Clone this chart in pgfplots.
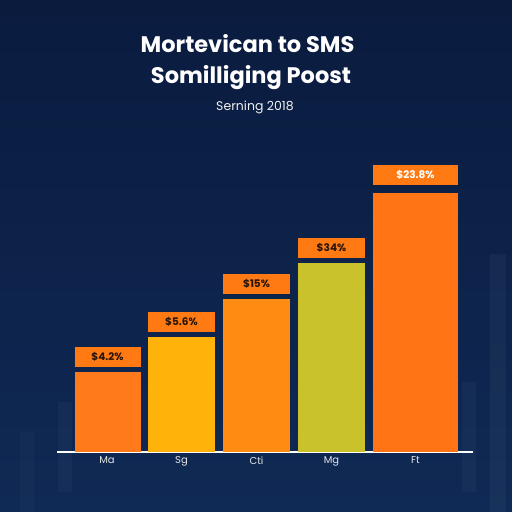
\documentclass[border=0pt]{standalone}
\usepackage{pgfplots}
\pgfplotsset{compat=1.18}
\usepackage{fontspec}
\setmainfont{Poppins}

\definecolor{bgtop}{HTML}{0A1B3E}
\definecolor{bgbot}{HTML}{0F2A55}
\definecolor{boxc}{HTML}{FF7A12}
\definecolor{barA}{HTML}{FF7A1A}
\definecolor{barB}{HTML}{FFB20A}
\definecolor{barC}{HTML}{FF8C12}
\definecolor{barD}{HTML}{C9C22B}
\definecolor{barE}{HTML}{FF7515}
\definecolor{labdark}{HTML}{2A1608}

\begin{document}
\begin{tikzpicture}[x=1pt,y=1pt]
\useasboundingbox (0,0) rectangle (512,512);
\shade[top color=bgtop, bottom color=bgbot] (0,0) rectangle (512,512);
% faint decorative columns in the background
\fill[white, opacity=0.03] (58,20) rectangle (72,110);
\fill[white, opacity=0.03] (462,20) rectangle (476,130);
\fill[white, opacity=0.04] (490,0) rectangle (506,258);
\fill[white, opacity=0.02] (20,0) rectangle (34,80);

\node[white, font=\bfseries\fontsize{22.5}{22.5}\selectfont] at (247.5,468) {Mortevican to SMS};
\node[white, font=\bfseries\fontsize{22.5}{22.5}\selectfont] at (251,434) {Somilliging Poost};
\node[white!88!gray, font=\fontsize{12.5}{12.5}\selectfont] at (255,405) {Serning 2018};

\begin{axis}[
    at={(57pt,60pt)}, anchor=south west,
    scale only axis, width=416pt, height=300pt,
    xmin=57, xmax=473, ymin=0, ymax=300,
    axis x line=bottom, axis y line=none,
    x axis line style={-, white!85, line width=1.2pt},
    xtick={107,181.5,256.5,331.5,415.5},
    xticklabels={Ma,Sg,Cti,Mg,Ft},
    major tick length=0pt,
    xticklabel style={white!80!gray, font=\fontsize{10}{10}\selectfont, yshift=-1pt},
    ybar, /pgf/bar shift=0pt,
    point meta=explicit symbolic,
    nodes near coords,
    every node near coord/.append style={fill=boxc, inner sep=0pt,
        minimum height=20pt, anchor=south, yshift=5pt,
        font=\bfseries\fontsize{10.5}{10.5}\selectfont, text=labdark},
    clip=false,
]
\addplot[fill=barA, draw=none, bar width=66,
    every node near coord/.append style={minimum width=66pt}]
    coordinates {(107.5,80) [\$4.2\%]};
\addplot[fill=barB, draw=none, bar width=67,
    every node near coord/.append style={minimum width=67pt}]
    coordinates {(181.5,115) [\$5.6\%]};
\addplot[fill=barC, draw=none, bar width=67,
    every node near coord/.append style={minimum width=67pt}]
    coordinates {(256.5,153) [\$15\%]};
\addplot[fill=barD, draw=none, bar width=67,
    every node near coord/.append style={minimum width=67pt}]
    coordinates {(331.5,189) [\$34\%]};
\addplot[fill=barE, draw=none, bar width=85,
    every node near coord/.append style={minimum width=85pt, text=white, yshift=3pt}]
    coordinates {(415.5,259) [\$23.8\%]};
\end{axis}
\end{tikzpicture}
\end{document}
